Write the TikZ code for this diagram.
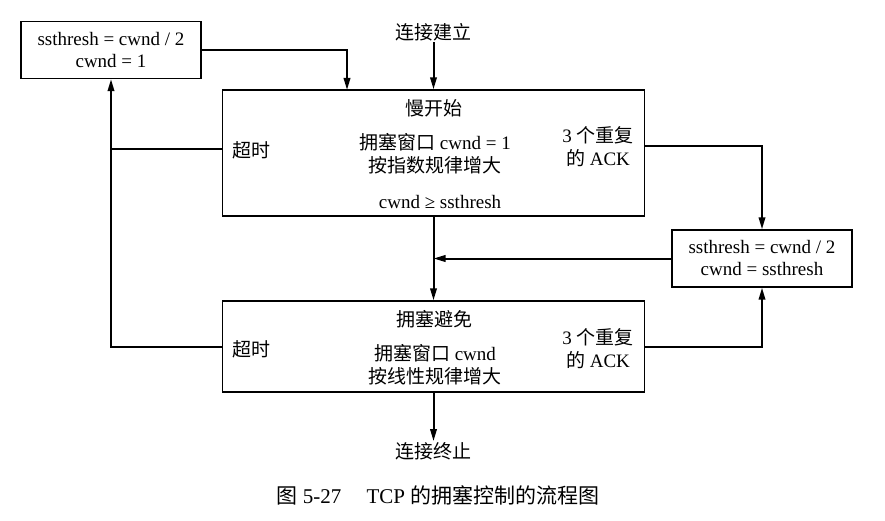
\documentclass[tikz,border=0pt]{standalone}
\usepackage{fontspec}
\setmainfont{Liberation Serif}
\newfontfamily\cjk{Noto Sans CJK SC}
\usetikzlibrary{arrows.meta,calc}
\begin{document}
\begin{tikzpicture}[x=1pt,y=-1pt,
  box/.style={draw, line width=1.4pt, inner sep=0pt, align=center,
    font=\fontsize{19}{22}\selectfont},
  txt/.style={inner sep=1pt, align=center, font=\fontsize{19}{23}\selectfont},
  line/.style={line width=2pt},
  conn/.style={line width=2pt, -{Triangle[length=12pt,width=6.5pt]}}]
\fill[white] (0,0) rectangle (885,521);
\useasboundingbox (0,0) rectangle (885,521);

% boxes
\node[box, minimum width=180pt, minimum height=57pt] (A) at (111,50)
  {ssthresh = cwnd / 2\\cwnd = 1};
\node[box, minimum width=422pt, minimum height=126pt] (SS) at (433.5,153) {};
\node[box, minimum width=180pt, minimum height=57pt] (B) at (762,258.5)
  {ssthresh = cwnd / 2\\cwnd = ssthresh};
\node[box, minimum width=422pt, minimum height=91pt] (CA) at (433.5,346.5) {};

% slow start texts
\node[txt] (SSt) at (434,108) {\cjk 慢开始};
\node[txt] (SSm) at (435,153.5) {{\cjk 拥塞窗口} cwnd = 1\\{\cjk 按指数规律增大}};
\node[txt] (SSc) at (440,202) {cwnd ≥ ssthresh};
\node[txt, anchor=west] (SSto) at (231,150) {\cjk 超时};
\node[txt] (SSack) at (598,146.5) {3 {\cjk 个重复}\\{\cjk 的} ACK};

% congestion avoidance texts
\node[txt] (CAt) at (434,319) {\cjk 拥塞避免};
\node[txt] (CAm) at (435,364.5) {{\cjk 拥塞窗口} cwnd\\{\cjk 按线性规律增大}};
\node[txt, anchor=west] (CAto) at (231,349) {\cjk 超时};
\node[txt] (CAack) at (598,348.5) {3 {\cjk 个重复}\\{\cjk 的} ACK};

% start / end / caption
\node[txt] (start) at (433.5,32) {\cjk 连接建立};
\node[txt] (end) at (433.5,451) {\cjk 连接终止};
\node[txt, font=\fontsize{21}{24}\selectfont] (cap) at (438,495)
  {{\cjk 图} 5-27\hspace{1.2em}TCP {\cjk 的拥塞控制的流程图}};

% connectors
\coordinate (ssin) at (347,90);
\draw[conn] (A.east) -| (ssin);
\draw[conn] (start.south) -- (start.south |- SS.north);
\draw[line] ([yshift=4pt]SS.west) -- ([yshift=4pt]SS.west -| A.south);
\draw[conn] (CA.west) -| (A.south);
\draw[conn] ([yshift=7pt]SS.east) -| (B.north);
\draw[conn] (CA.east) -| (B.south);
\draw[conn] (B.west) -- (B.west -| SS.south);
\draw[conn] (SS.south) -- (CA.north);
\draw[conn] (CA.south) -- (end.north);
\end{tikzpicture}
\end{document}
